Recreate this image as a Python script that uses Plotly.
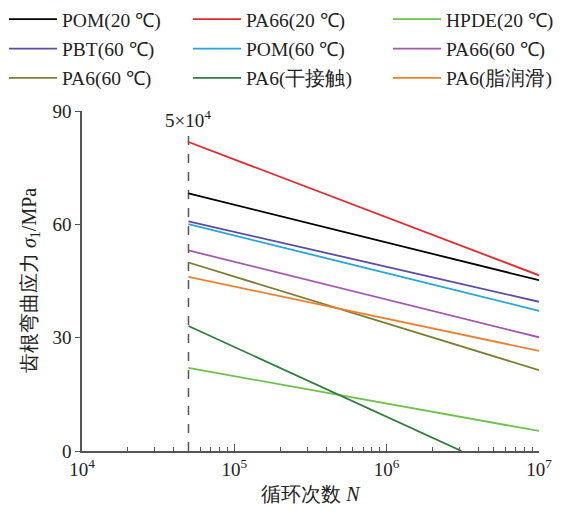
import plotly.graph_objects as go
import numpy as np

names = ["POM(20 ℃)", "PA66(20 ℃)", "HPDE(20 ℃)",
         "PBT(60 ℃)", "POM(60 ℃)", "PA66(60 ℃)",
         "PA6(60 ℃)", "PA6(干接触)", "PA6(脂润滑)"]
colors = ["#000000", "#e8262b", "#6cc24a",
          "#5b4ba8", "#22a5e0", "#a457b0",
          "#7d7d30", "#2e7d3c", "#f07f2d"]
x_start = [5e4] * 9
x_end = [1e7, 1e7, 1e7, 1e7, 1e7, 1e7, 1e7, 3.1e6, 1e7]
y_start = [68.2, 81.8, 22.0, 60.8, 60.05, 53.1, 49.9, 33.1, 46.1]
y_end = [45.2, 46.5, 5.3, 39.5, 37.1, 30.1, 21.4, 0.0, 26.5]
x_tickvals = [1e4, 1e5, 1e6, 1e7]
x_ticktext = ["10<sup>4</sup>", "10<sup>5</sup>", "10<sup>6</sup>", "10<sup>7</sup>"]
y_tickvals = [0, 30, 60, 90]

FONT = "Liberation Serif"
legend_ids = ["legend", "legend2", "legend3"]

fig = go.Figure()
fig.add_trace(go.Scatter(x=[5e4, 5e4], y=[0, 86], mode="lines",
                         line=dict(color="#555555", width=1.5, dash="dash"),
                         showlegend=False, hoverinfo="skip"))
for i, (n, c, xs, xe, ys, ye) in enumerate(zip(names, colors, x_start, x_end, y_start, y_end)):
    fig.add_trace(go.Scatter(x=[xs, xe], y=[ys, ye], mode="lines", name=n,
                             legend=legend_ids[i % 3], legendgroup=n,
                             line=dict(color=c, width=1.8)))

fig.add_annotation(x=np.log10(5e4), y=88, text="5×10<sup>4</sup>", showarrow=False,
                   font=dict(size=19, family=FONT, color="#222"), yanchor="middle")
fig.add_annotation(xref="paper", yref="paper", x=-52 / 457, y=0.5, textangle=-90,
                   text="齿根弯曲应力 <i>σ</i><sub>1</sub>/MPa", showarrow=False,
                   xanchor="center", yanchor="middle",
                   font=dict(size=20, family=FONT, color="#222"))

minor_vals = [m * 10 ** e for e in (4, 5, 6) for m in range(2, 10)]


def leg(xpix):
    return dict(orientation="v", xref="container", yref="container",
                x=xpix / 588, y=1.0, xanchor="left", yanchor="top",
                itemwidth=48, tracegroupgap=1,
                font=dict(size=19.5, family=FONT, color="#222"), bgcolor="rgba(0,0,0,0)")


fig.update_layout(
    width=588, height=514,
    margin=dict(l=82, r=49, t=111, b=63, autoexpand=False),
    plot_bgcolor="white", paper_bgcolor="white",
    font=dict(family=FONT, size=19, color="#222"),
    legend=leg(4), legend2=leg(188), legend3=leg(388),
    xaxis=dict(type="log", range=[4, 7], tickmode="array", tickvals=x_tickvals, ticktext=x_ticktext,
               showline=True, linecolor="#555", linewidth=1.5,
               ticks="inside", ticklen=7, tickcolor="#555", showgrid=False,
               zeroline=False, automargin=False,
               minor=dict(ticks="inside", ticklen=4, tickcolor="#555", tickmode="array",
                          tickvals=minor_vals, showgrid=False),
               title=dict(text="循环次数 <i>N</i>", font=dict(size=20, family=FONT), standoff=8),
               tickfont=dict(size=19, family=FONT)),
    yaxis=dict(range=[0, 90], tickmode="array", tickvals=y_tickvals, showline=True, linecolor="#555",
               linewidth=1.5, ticks="outside", ticklen=5, tickcolor="#555", showgrid=False,
               zeroline=False, automargin=False,
               tickfont=dict(size=19, family=FONT)),
)

fig.write_html("out.html", config={"displayModeBar": False},
               post_script="document.body.style.margin='0px';")
